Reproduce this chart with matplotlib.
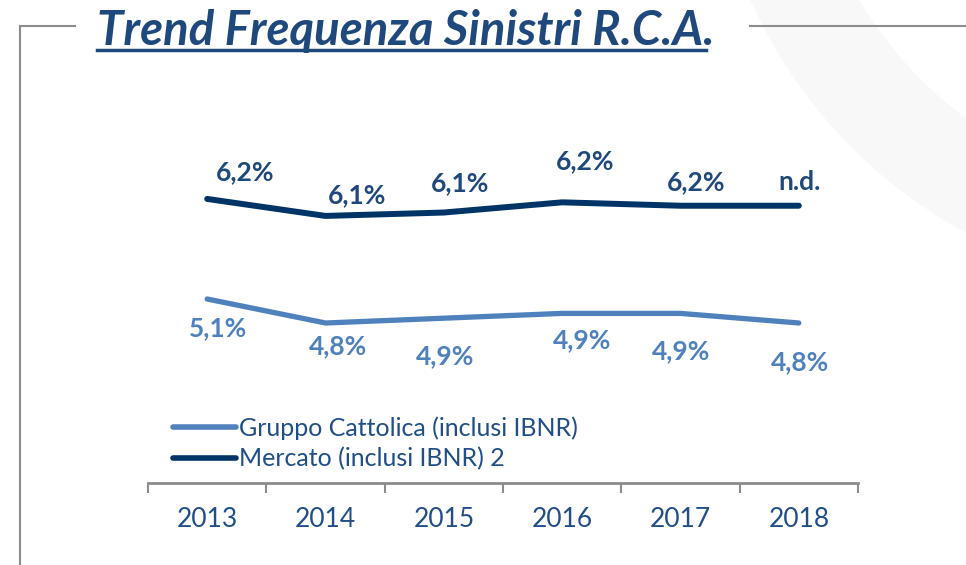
import numpy as np
from matplotlib import pyplot as plt
from matplotlib.patches import Wedge, Rectangle
from matplotlib.lines import Line2D

# data
years = ["2013", "2014", "2015", "2016", "2017", "2018"]
gruppo = [5.10, 4.80, 4.86, 4.92, 4.92, 4.80]
gruppo_labels = ["5,1%", "4,8%", "4,9%", "4,9%", "4,9%", "4,8%"]
mercato = [6.22, 6.12, 6.14, 6.20, 6.18, 6.18]
mercato_labels = ["6,2%", "6,1%", "6,1%", "6,2%", "6,2%", "n.d."]
legend_names = ["Gruppo Cattolica (inclusi IBNR)", "Mercato (inclusi IBNR) 2"]

light = "#4f81bd"
dark = "#003366"
txt = "#1f4e89"
plt.rcParams['font.family'] = ['Lato', 'DejaVu Sans']

fig = plt.figure(figsize=(9.66, 5.65), dpi=100)

# background decoration in pixel coords
bg = fig.add_axes([0, 0, 1, 1])
bg.set_xlim(0, 966)
bg.set_ylim(565, 0)
bg.axis("off")
bg.add_patch(Wedge((1200, -200), 492, 0, 360, width=97, color="#f8f8f8", lw=0))
bg.add_patch(Rectangle((0, 0), 750, 57, color="white", lw=0))
bg.plot([20, 20], [26, 565], color="#8c8c8c", lw=1.5)
bg.plot([20, 75], [26, 26], color="#8c8c8c", lw=1.5)
bg.plot([750, 966], [26, 26], color="#8c8c8c", lw=1.5)
fig.text(97 / 966, 1 - 45 / 565, "Trend Frequenza Sinistri R.C.A.", fontsize=34,
         fontweight="bold", fontstyle="italic", color="#1f497d", va="baseline")
bg.plot([97, 706], [50, 50], color="#1f497d", lw=2.5)

# main chart
ax = fig.add_axes([148 / 966, (565 - 483) / 565, 710 / 966, 343 / 565])
ax2 = ax.twinx()
x = np.arange(len(years))

ax.plot(x, gruppo, color=light, lw=3.8, solid_capstyle="round", solid_joinstyle="round")
ax2.plot(x, mercato, color=dark, lw=4.3, solid_capstyle="round", solid_joinstyle="round")
ax.set_ylim(2.8, 2.8 + 343 / 80)
ax2.set_ylim(4.549, 4.549 + 343 / 170)

# label offsets in pixels (layout)
g_off = [(11, -29), (13, -23), (1, -38), (20, -27), (1, -38), (1, -39)]
m_off = [(38, 27), (32, 21), (16, 29), (23, 41), (16, 24), (1, 24)]
for i in range(len(years)):
    ax.annotate(gruppo_labels[i], (x[i], gruppo[i]), xytext=(g_off[i][0] * 0.72, g_off[i][1] * 0.72),
                textcoords="offset points", ha="center", va="center", fontsize=19,
                fontweight="bold", color=light)
    ax2.annotate(mercato_labels[i], (x[i], mercato[i]), xytext=(m_off[i][0] * 0.72, m_off[i][1] * 0.72),
                 textcoords="offset points", ha="center", va="center", fontsize=19,
                 fontweight="bold", color="#1f497d")

for a in (ax, ax2):
    for s in ["top", "left", "right"]:
        a.spines[s].set_visible(False)
    a.set_yticks([])
    a.set_xlim(-0.5, 5.5)
ax2.spines["bottom"].set_visible(False)
ax.spines["bottom"].set_color("#8c8c8c")
ax.spines["bottom"].set_linewidth(2)
ax.set_xticks(x)
ax.set_xticklabels(years, fontsize=19, color=txt)
ax.tick_params(axis="x", which="major", length=0, pad=17)
ax.set_xticks(np.arange(-0.5, 6, 1), minor=True)
ax.tick_params(axis="x", which="minor", length=7, width=1.5, color="#8c8c8c", direction="out")
ax.patch.set_alpha(0)

handles = [Line2D([], [], color=light, lw=4, solid_capstyle="round"),
           Line2D([], [], color=dark, lw=4, solid_capstyle="round")]
leg = ax.legend(handles, legend_names, loc="upper left", bbox_to_anchor=(25 / 710, (483 - 416) / 343),
                frameon=False, handlelength=2.5, handletextpad=0.15, labelspacing=0.3,
                fontsize=18, borderaxespad=0, borderpad=0)
for t in leg.get_texts():
    t.set_color(txt)

fig.savefig("out.png", dpi=100)
